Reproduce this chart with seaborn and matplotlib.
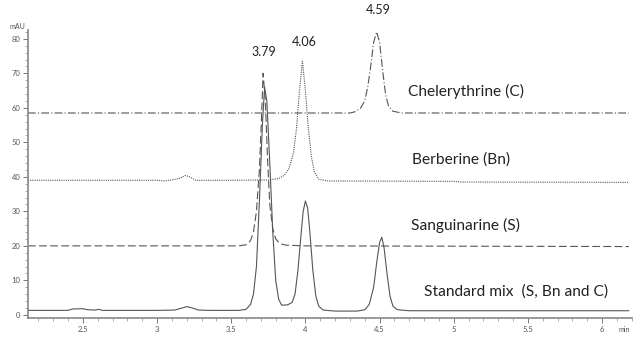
import pandas as pd
import seaborn as sns
import matplotlib.pyplot as plt
from matplotlib.ticker import MultipleLocator, FormatStrFormatter

# Retention time (min) / absorbance (mAU)
mix_t = [2.13, 2.40, 2.43, 2.50, 2.53, 2.58, 2.61, 2.63, 3.00, 3.12, 3.17, 3.20, 3.23, 3.28,
         3.35, 3.55, 3.60, 3.63, 3.65, 3.67, 3.69, 3.71, 3.725, 3.74, 3.76, 3.78, 3.80,
         3.82, 3.84, 3.88, 3.91, 3.93, 3.95, 3.97, 3.985, 4.00, 4.015, 4.03, 4.05, 4.07,
         4.09, 4.12, 4.20, 4.35, 4.40, 4.43, 4.46, 4.48, 4.50, 4.515, 4.53, 4.55, 4.57,
         4.59, 4.62, 4.70, 5.00, 6.18]
mix_y = [1.3, 1.3, 1.7, 1.8, 1.5, 1.4, 1.6, 1.3, 1.3, 1.4, 2.0, 2.4, 2.1, 1.4,
         1.3, 1.3, 1.6, 3.0, 6.0, 14.0, 33.0, 55.0, 66.0, 62.0, 44.0, 24.0, 10.0,
         4.5, 2.8, 2.9, 3.6, 6.0, 13.0, 23.0, 30.0, 33.0, 31.0, 24.0, 13.0, 5.5,
         2.5, 1.4, 1.1, 1.1, 1.5, 3.0, 8.0, 15.0, 21.0, 22.5, 19.5, 12.0, 5.5,
         2.5, 1.5, 1.2, 1.2, 1.2]

san_t = [2.13, 3.55, 3.60, 3.63, 3.65, 3.67, 3.69, 3.705, 3.715, 3.73, 3.745, 3.76,
         3.78, 3.80, 3.83, 3.87, 4.00, 6.18]
san_y = [20.0, 20.0, 20.3, 21.5, 24.0, 30.0, 42.0, 58.0, 70.0, 62.0, 45.0, 32.0,
         25.0, 22.0, 20.6, 20.2, 20.0, 19.8]

ber_t = [2.13, 3.00, 3.05, 3.15, 3.19, 3.22, 3.26, 3.50, 3.75, 3.82, 3.86, 3.89, 3.92,
         3.94, 3.96, 3.98, 4.00, 4.02, 4.04, 4.06, 4.09, 4.15, 5.00, 5.05, 6.18]
ber_y = [39.0, 39.0, 38.8, 39.5, 40.4, 40.0, 39.0, 39.0, 39.1, 39.5, 40.5, 42.5, 47.0,
         54.0, 65.0, 73.5, 65.0, 54.0, 46.0, 41.5, 39.3, 38.8, 38.7, 38.5, 38.4]

che_t = [2.13, 4.30, 4.33, 4.37, 4.40, 4.42, 4.44, 4.46, 4.48, 4.50, 4.52, 4.54, 4.56,
         4.59, 4.65, 6.18]
che_y = [58.5, 58.5, 58.8, 59.8, 62.0, 66.0, 72.0, 79.0, 82.0, 79.0, 71.0, 64.0, 60.5,
         59.0, 58.5, 58.5]

trace_names = ["Chelerythrine (C)", "Berberine (Bn)", "Sanguinarine (S)", "Standard mix  (S, Bn and C)"]
peak_labels = ["3.79", "4.06", "4.59"]

sns.set_style("ticks")
plt.rcParams['font.family'] = ['Lato', 'DejaVu Sans']

fig = plt.figure(figsize=(6.35, 3.39), dpi=100)
ax = fig.add_axes([0.044, 0.062, 0.951, 0.85])

line_col = "#555555"
traces = [(che_t, che_y, (0, (7, 2, 1, 2))),
          (ber_t, ber_y, (0, (1, 1))),
          (san_t, san_y, (0, (7, 3))),
          (mix_t, mix_y, "-")]
for t, y, ls in traces:
    df = pd.DataFrame({"t": t, "y": y})
    sns.lineplot(data=df, x="t", y="y", ax=ax, color=line_col, lw=0.8,
                 linestyle=ls, sort=False)

ax.set_xlim(2.13, 6.2)
ax.set_ylim(-0.9, 82.6)
ax.set_xlabel("")
ax.set_ylabel("")

ax.xaxis.set_major_locator(MultipleLocator(0.5))
ax.xaxis.set_minor_locator(MultipleLocator(0.1))
ax.xaxis.set_major_formatter(FormatStrFormatter('%g'))
ax.yaxis.set_major_locator(MultipleLocator(10))
ax.yaxis.set_minor_locator(MultipleLocator(2))
ax.tick_params(which='major', length=3.5, width=0.7, color="#777777",
               labelsize=5.5, labelcolor="#555555", pad=2)
ax.tick_params(which='minor', length=2, width=0.5, color="#888888")

for side in ["top", "right"]:
    ax.spines[side].set_visible(False)
for side in ["left", "bottom"]:
    ax.spines[side].set_color("#888888")
    ax.spines[side].set_linewidth(1.2)

ax.text(-0.005, 1.0, "mAU", transform=ax.transAxes, ha="right", va="bottom",
        fontsize=5, color="#555555")
ax.text(6.11, -4.2, "min", ha="left", va="center", fontsize=5, color="#555555",
        clip_on=False)

# trace labels
label_pos = [(4.69, 64.6), (4.72, 44.9), (4.71, 25.8), (4.80, 6.7)]
for name, (x, y) in zip(trace_names, label_pos):
    ax.text(x, y, name, ha="left", va="center", fontsize=11.2, color="#222222")

# retention times over peaks
peak_pos = [(3.72, 76.2), (3.99, 79.1), (4.49, 88.4)]
for lab, (x, y) in zip(peak_labels, peak_pos):
    ax.text(x, y, lab, ha="center", va="center", fontsize=9, color="#222222",
            clip_on=False)

fig.savefig("out.png", dpi=100)
